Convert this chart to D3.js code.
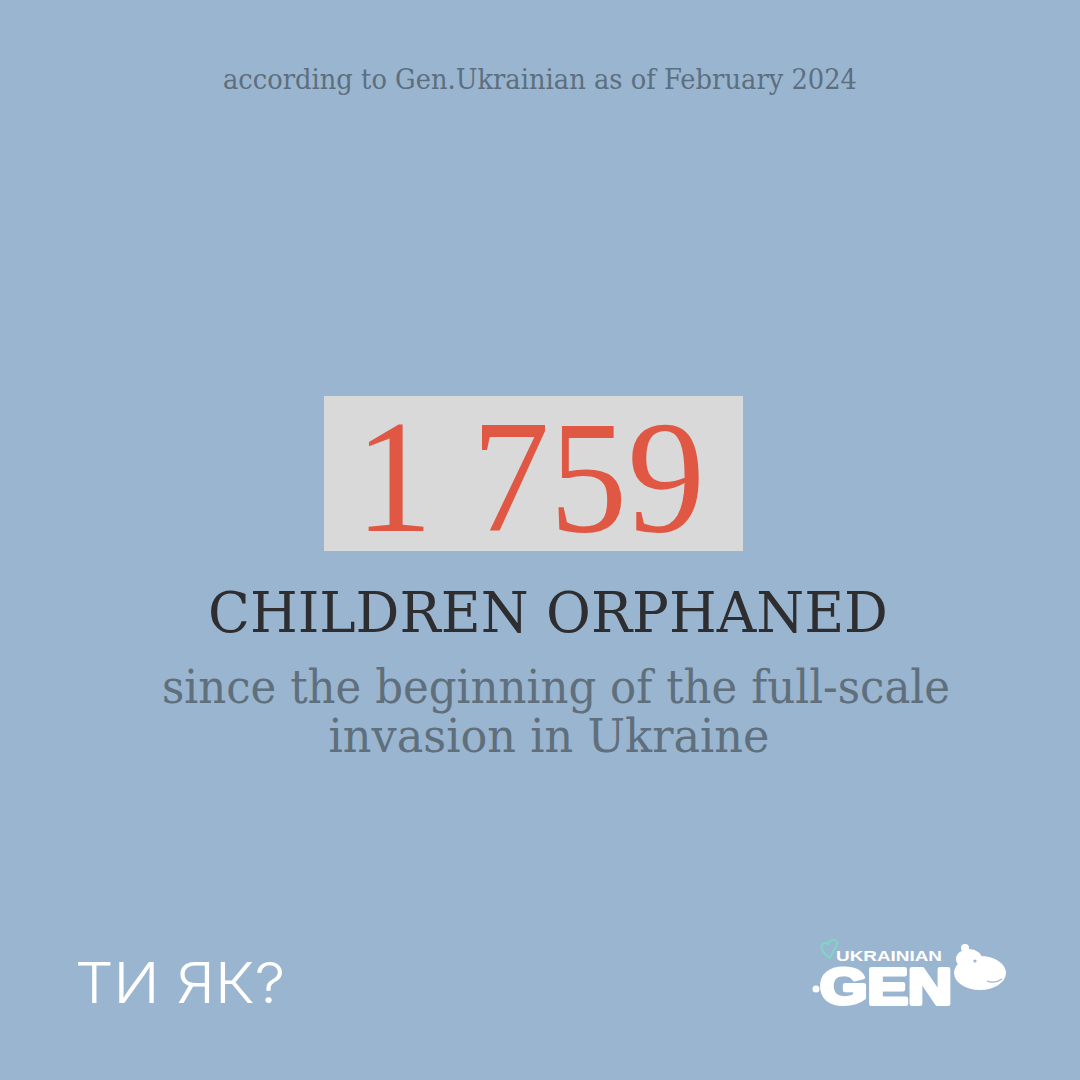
<!DOCTYPE html>
<html><head><meta charset="utf-8">
<script src="https://cdn.jsdelivr.net/npm/d3@7"></script>
<style>html,body{margin:0;padding:0;background:#9ab5d0;}svg{display:block;}</style>
</head><body>
<script>
// ---- data ----
const sourceNote = ["according to Gen.Ukrainian as of February 2024"];
const statValues = [1759];
const statLabels = ["CHILDREN ORPHANED"];
const subtitleLines = ["since the beginning of the full-scale", "invasion in Ukraine"];
const brandLeft = ["ТИ ЯК?"];
const brandRight = ["UKRAINIAN", "GEN"];

const W = 1080, H = 1080;
const svg = d3.select("body").append("svg").attr("width", W).attr("height", H);
svg.append("rect").attr("width", W).attr("height", H).attr("fill", "#9ab5d0");

const fmt = d3.formatLocale({decimal: ".", thousands: " ", grouping: [3], currency: ["", ""]}).format(",d");
const serif = "'DejaVu Serif', 'Liberation Serif', serif";

// top note
svg.selectAll(".note").data(sourceNote).join("text")
  .attr("x", 540).attr("y", 89).attr("text-anchor", "middle")
  .attr("font-family", serif).attr("font-size", 27).attr("fill", "#5d6f7e")
  .attr("textLength", 634).attr("lengthAdjust", "spacingAndGlyphs")
  .text(d => d);

// stat box
svg.append("rect").attr("x", 324).attr("y", 396).attr("width", 419).attr("height", 155).attr("fill", "#d9d9d9");
svg.selectAll(".stat").data(statValues).join("text")
  .attr("x", 530).attr("y", 531).attr("text-anchor", "middle")
  .attr("font-family", "'Liberation Serif', serif").attr("font-size", 162).attr("fill", "#e05843")
  .attr("textLength", 350).attr("lengthAdjust", "spacingAndGlyphs")
  .text(d => fmt(d));

// headline
svg.selectAll(".head").data(statLabels).join("text")
  .attr("x", 548).attr("y", 632).attr("text-anchor", "middle")
  .attr("font-family", serif).attr("font-size", 56).attr("fill", "#2e2e30")
  .attr("textLength", 680).attr("lengthAdjust", "spacingAndGlyphs")
  .text(d => d);

// subtitle
const subLen = [788, 441];
const subX = [556, 549];
svg.selectAll(".sub").data(subtitleLines).join("text")
  .attr("x", (d, i) => subX[i]).attr("y", (d, i) => 703 + i * 49).attr("text-anchor", "middle")
  .attr("font-family", serif).attr("font-size", 46).attr("fill", "#5f6f7b")
  .attr("textLength", (d, i) => subLen[i]).attr("lengthAdjust", "spacingAndGlyphs")
  .text(d => d);

// bottom-left brand
svg.selectAll(".bl").data(brandLeft).join("text")
  .attr("x", 75).attr("y", 1003)
  .attr("font-family", "Inter, 'Noto Sans', sans-serif").attr("font-weight", 300)
  .attr("font-size", 56).attr("fill", "#ffffff")
  .attr("textLength", 210).attr("lengthAdjust", "spacingAndGlyphs")
  .text(d => d);

// bottom-right logo
const logo = svg.append("g");
// hippo head
logo.append("ellipse").attr("cx", 980).attr("cy", 973).attr("rx", 26).attr("ry", 17).attr("fill", "#fff");
logo.append("ellipse").attr("cx", 969).attr("cy", 959).attr("rx", 13).attr("ry", 10).attr("fill", "#fff");
logo.append("circle").attr("cx", 965).attr("cy", 948).attr("r", 4).attr("fill", "#fff");
logo.append("circle").attr("cx", 975).attr("cy", 961).attr("r", 1.6).attr("fill", "#9ab5d0");
logo.append("path").attr("d", "M987,981 Q995,984 1002,979").attr("stroke", "#9ab5d0").attr("stroke-width", 1.2).attr("fill", "none");
// tail
logo.append("circle").attr("cx", 816).attr("cy", 989).attr("r", 3.5).attr("fill", "#fff");
// heart
logo.append("path").attr("d", "M830,958 C818,950 820,940 828,944 C832,936 842,940 834,950 Z")
  .attr("fill", "none").attr("stroke", "#7fd6c8").attr("stroke-width", 2);
logo.append("text").datum(brandRight[0])
  .attr("x", 836).attr("y", 961)
  .attr("font-family", "'Liberation Sans', Arial, sans-serif").attr("font-weight", 900)
  .attr("font-size", 15).attr("fill", "#fff")
  .attr("textLength", 106).attr("lengthAdjust", "spacingAndGlyphs")
  .text(d => d);
logo.append("text").datum(brandRight[1])
  .attr("x", 820).attr("y", 1004)
  .attr("font-family", "'Liberation Sans', Arial, sans-serif").attr("font-weight", 900)
  .attr("font-size", 50).attr("fill", "#fff")
  .attr("stroke", "#fff").attr("stroke-width", 4).attr("stroke-linejoin", "round")
  .attr("textLength", 132).attr("lengthAdjust", "spacingAndGlyphs")
  .text(d => d);
</script>
</body></html>
